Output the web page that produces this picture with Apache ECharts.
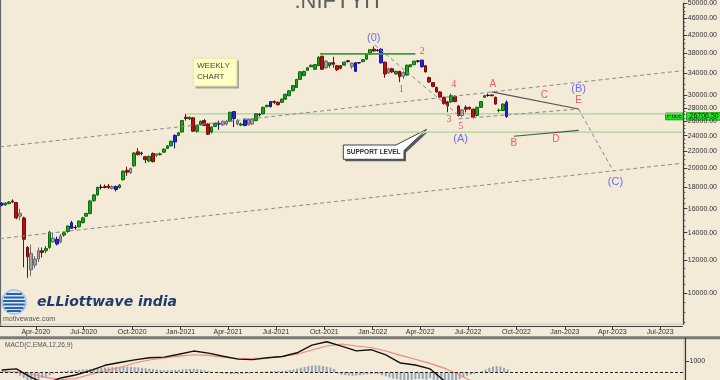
<!DOCTYPE html>
<html><head><meta charset="utf-8">
<script src="https://cdn.jsdelivr.net/npm/echarts@6/dist/echarts.min.js"></script>
<style>html,body{margin:0;padding:0;background:#f3ead8}#c{width:720px;height:380px}</style>
</head><body><div id="c"></div>
<script>
// ---------------- data ----------------
const weekStart = '2020-01-27';
const opens  = [16500,16350,16450,16700,16550,15350,15200,12900,11400,11700,12100,12670,12670,12900,13300,13500,13300,13820,14100,14350,14400,14470,14800,15350,15580,16720,17270,18000,18100,18150,17900,18100,18000,18800,19800,19530,20300,21940,21750,21350,20850,21750,21500,21600,21900,22360,22680,23180,24040,24490,26590,26330,26500,24600,25500,26100,25600,24490,25250,25600,25500,25600,26000,27430,25600,25450,26300,25500,25600,26100,26950,27100,28200,28200,29000,28900,28880,29400,29960,30800,31360,32800,33500,34500,35200,34700,35400,37300,35000,35400,36000,35400,35400,35500,36400,35200,35970,35950,36200,36700,37700,38800,38600,38800,36100,34000,34800,33800,34300,33400,33600,35200,35600,36300,36500,35400,33130,32230,31360,30600,29700,28950,28950,29850,28300,26850,28090,28100,27800,26850,28090,29700,30050,30100,29700,27600,27600,28880];
const closes = [16300,16500,16600,16600,15200,15600,13500,12250,12480,12100,12670,12550,12830,14050,13580,13150,13750,14000,14530,14800,14420,14930,15200,15580,16700,17270,18000,18020,18000,18000,18100,17800,18250,19700,19600,20000,21800,21600,21780,21000,21400,20770,21700,21700,22270,22680,23270,24040,24400,26100,26400,26590,24600,25400,26000,25400,24200,25170,25700,25650,26000,26000,27330,26400,26100,25600,25400,26300,26300,27100,27000,28090,28400,29000,28880,28500,29400,30200,30800,31700,32800,34220,34300,35000,35500,35600,37100,34700,36300,35970,35700,34600,34900,36100,36200,35900,34300,36000,36600,37700,38700,38400,38500,35970,33800,34800,34200,34300,33300,34100,35500,35600,36300,36350,35200,34200,32340,31550,30600,29700,28700,28300,29960,29000,26850,27700,27800,27850,26590,28090,29000,29960,30000,29950,28600,27650,28600,26706.5];
const lows   = [16200,16250,16400,16500,15100,15000,11550,10900,11000,11500,11900,12200,12500,12800,13250,13050,13200,13700,14000,14300,14250,14400,14750,15300,15500,16650,17200,17800,17900,17850,17800,17600,17900,18700,19200,19400,20200,21500,21500,20600,20700,20700,21300,21500,21800,22300,22600,22350,23950,24400,26100,26200,24500,24400,25400,25300,24100,24300,25200,24800,25300,25400,25900,25170,25400,25300,25300,25400,25500,26000,26700,27000,28100,28100,28600,28400,28800,29300,29900,30700,31300,32700,33400,34400,35100,34600,35300,34600,34800,35000,35000,34400,34700,35400,36000,34800,34200,35800,36100,36600,37600,38300,38300,35800,33100,33800,34000,33700,32300,32900,33500,35100,35500,36000,35000,34100,32200,31400,30500,29600,28500,27330,28800,28900,26700,26600,27300,27700,26400,26700,28000,29600,29800,29900,28500,27300,27500,26500];
const highs  = [16600,16600,16700,16850,16600,16000,15300,13000,13100,12300,12900,12900,13000,14150,14000,13700,13900,14100,14600,14950,14600,15000,15300,15650,16800,17350,18100,18300,18300,18350,18200,18200,18350,19800,20200,20100,21900,22400,21950,21450,21500,21850,21800,21850,22350,22750,23350,24150,24500,26200,27100,26700,26600,25500,26100,26300,25700,25300,25800,26100,26100,26200,27400,27500,26300,25800,26400,26400,26400,27200,27200,28200,28500,29100,29200,29000,29500,30300,30900,31800,32900,34300,34400,35100,35600,35700,37300,37400,36500,36100,37200,35500,35500,36200,36500,36000,36100,36100,36700,37800,38800,39400,38800,39000,36200,35000,35000,34400,34400,34300,35600,35700,36400,36500,36600,35500,33300,32300,31500,30700,29800,29100,30300,30000,28400,27800,28400,28200,27900,28200,29100,30100,30300,30200,29800,27900,28700,29200];
const blueBars  = [0,15,19,31,47,59,63,66,73,96,103,114,137];
const grayBars  = [5,8,9,10,14,16,30,35,42,60,61,64,67,68,88,95,105,109,125];
const blackBars = [20,27,38,70,97,102,113,132];

const macdHist = [80,100,60,20,-100,-300,-500,-700,-800,-700,-600,-500,-400,
  -250,-150,0,60,100,140,180,200,220,240,260,300,330,360,400,420,440,450,470,480,500,500,480,460,440,400,360,320,280,240,200,180,170,180,200,220,250,280,300,300,280,240,180,120,60,0,
  -60,-100,-130,-150,-160,-150,-130,-110,-90,-60,-30,0,
  40,80,100,110,120,130,150,200,260,320,400,480,550,600,620,600,560,500,420,300,
  -100,-200,-250,-280,-300,-280,-250,-200,-180,-150,-150,-160,
  -250,-350,-450,-550,-600,-650,-700,-700,-650,-600,-580,-600,-650,-500,-650,-800,-950,-1150,-1000,-850,-700,-600,-450,-300,-200,-150,-30,
  100,250,400,520,560,520,400,250];
const macdWeeks  = [0,4,8,12,16,20,24,28,32,36,40,44,48,52,56,60,64,68,72,76,80,84,88,92,96,100,104,108,112,116,120,124,128,132,136,137];
const macdLine   = [200,300,-450,-1000,-500,-240,150,620,870,1100,1290,1340,1600,1880,1700,1420,1170,1120,1290,1400,1730,2400,2700,2320,1900,2000,1550,820,650,300,-800,-850,-1050,-800,-850,-1000];
const signalLine = [50,30,-150,-450,-650,-550,-200,130,430,820,1090,1260,1430,1560,1500,1330,1220,1240,1270,1400,1600,1980,2330,2500,2330,2200,1880,1500,1150,790,350,-250,-900,-1300,-1250,-1220];

const quarterTicks = ['2020-04-01','2020-07-01','2020-10-01','2021-01-01','2021-04-01','2021-07-01','2021-10-01','2022-01-01','2022-04-01','2022-07-01','2022-10-01','2023-01-01','2023-04-01','2023-07-01'];
const priceTicks = [10000,12000,14000,16000,18000,20000,22000,24000,26000,28000,30000,34000,38000,42000,46000,50000];
const macdTicks = [1000];

const channelTop    = [['2020-01-24',22550],['2023-08-12',34430]];
const channelBottom = [['2020-01-24',13550],['2023-08-12',20600]];
const declineLine   = [['2022-01-05',39710],['2022-06-13',26890]];
const triangleLow   = [['2022-06-13',26340],['2023-01-27',27830]];
const projection    = [['2023-01-27',27830],['2023-04-03',19710]];
const lineAE        = [['2022-08-15',30620],['2023-01-27',27830]];
const lineBD        = [['2022-09-26',23920],['2023-01-27',24720]];
const resistance    = [['2021-09-23',37800],['2022-03-23',37800]];
const zoneTop       = [['2021-01-14',27080],['2023-08-12',27080]];
const zoneBottom    = [['2021-02-02',24490],['2023-08-12',24490]];

const waveLabels = [
  ['(0)','2022-01-03',41270],['1','2022-02-24',31070],['2','2022-04-05',38430],
  ['3','2022-05-26',26260],['4','2022-06-04',31930],['5','2022-06-17',25270],
  ['(A)','2022-06-17',23600],['A','2022-08-17',31930],['B','2022-09-26',22960],
  ['C','2022-11-23',29960],['D','2022-12-15',23470],['E','2023-01-27',29240],
  ['(B)','2023-01-27',31070],['(C)','2023-04-07',18530]
];

// ---------------- build ----------------
const DAY = 86400000;
function toTime(s){ const p = s.split('-').map(Number); return new Date(p[0], p[1]-1, p[2]).getTime(); }
const MONTHS = ['Jan','Feb','Mar','Apr','May','Jun','Jul','Aug','Sep','Oct','Nov','Dec'];
const xMin = toTime('2020-01-24'), xMax = toTime('2023-08-12');
const yMin = 8420, yMax = 50020;
const t0 = toTime(weekStart);
const weekDates = opens.map((_, i) => t0 + i * 7 * DAY);

const STY = {
  blue:  {color:'#2424d8', color0:'#2424d8', borderColor:'#12129a', borderColor0:'#12129a'},
  gray:  {color:'#a3a3a3', color0:'#a3a3a3', borderColor:'#6a6a6a', borderColor0:'#6a6a6a'},
  black: {color:'#222', color0:'#222', borderColor:'#111', borderColor0:'#111'}
};
const candleData = weekDates.map((d, i) => {
  const item = {value: [d, opens[i], closes[i], lows[i], highs[i]]};
  if (blueBars.includes(i)) item.itemStyle = STY.blue;
  else if (grayBars.includes(i)) item.itemStyle = STY.gray;
  else if (blackBars.includes(i)) item.itemStyle = STY.black;
  return item;
});

const L10 = v => Math.log10(v);
const minorTicks = [];
for (let v = 8500; v <= 30000; v += 500) if (!priceTicks.includes(v)) minorTicks.push(L10(v));
for (let v = 31000; v <= 50000; v += 1000) if (!priceTicks.includes(v)) minorTicks.push(L10(v));

function lineSeries(data, color, width, dash, z) {
  return {type:'line', xAxisIndex:0, yAxisIndex:0, data: data.map(p => [toTime(p[0]), p[1]]),
    symbol:'none', silent:true, z: z || 4,
    lineStyle:{color, width, type: dash ? [4,3] : 'solid'}};
}
const DASH = '#8a8a8a';

const labelData = waveLabels.map(w => {
  const t = w[0];
  let lab;
  if (t[0] === '(') lab = {color:'#4e4ef2', fontSize:11, fontFamily:'Liberation Sans'};
  else if (/\d/.test(t[0])) lab = {color:'#ee2a2a', fontSize:10, fontFamily:'Liberation Serif'};
  else lab = {color:'#f03a3a', fontSize:10, fontFamily:'Liberation Sans'};
  return {value:[toTime(w[1]), w[2]], name:t, label: Object.assign({show:true, position:'inside', formatter:t}, lab)};
});

const chart = echarts.init(document.getElementById('c'), null, {renderer:'canvas'});
const option = {
  animation:false,
  backgroundColor:'#f3ead8',
  grid:[
    {left:0, right:36, top:0, height:324.3},
    {left:0, right:36, top:338.4, bottom:0}
  ],
  xAxis:[
    {type:'value', gridIndex:0, min:xMin, max:xMax, offset:2.4,
     axisLine:{show:true, lineStyle:{color:'#3a3a3a', width:1.2}},
     axisTick:{show:true, length:3, lineStyle:{color:'#3a3a3a'}, customValues: quarterTicks.map(toTime)},
     axisLabel:{show:true, margin:2, fontSize:7, fontFamily:'Liberation Sans', color:'#333',
       customValues: quarterTicks.map(toTime),
       formatter: v => { const d = new Date(v); return MONTHS[d.getMonth()] + '-' + d.getFullYear(); }},
     splitLine:{show:false}},
    {type:'value', gridIndex:1, min:xMin, max:xMax, show:false}
  ],
  yAxis:[
    {type:'log', gridIndex:0, min:yMin, max:yMax, position:'right', offset:1,
     axisLine:{show:true, lineStyle:{color:'#3a3a3a', width:1.2}},
     axisTick:{show:false}, axisLabel:{show:false}, splitLine:{show:false}},
    {type:'value', gridIndex:0, min:L10(yMin), max:L10(yMax), position:'right', offset:1,
     axisLine:{show:false},
     axisTick:{show:true, length:4, lineStyle:{color:'#3a3a3a'}, customValues: priceTicks.map(L10)},
     axisLabel:{show:true, margin:4.5, fontSize:7, fontFamily:'Liberation Sans', color:'#333',
       customValues: priceTicks.map(L10), formatter: v => Math.round(Math.pow(10, v)).toFixed(2)},
     splitLine:{show:false}},
    {type:'value', gridIndex:0, min:L10(yMin), max:L10(yMax), position:'right', offset:1,
     axisLine:{show:false},
     axisTick:{show:true, length:2, lineStyle:{color:'#555'}, customValues: minorTicks},
     axisLabel:{show:false}, splitLine:{show:false}},
    {type:'value', gridIndex:1, min:-680, max:3000, position:'right', offset:1,
     axisLine:{show:true, lineStyle:{color:'#3a3a3a', width:1.2}},
     axisTick:{show:true, length:4, lineStyle:{color:'#3a3a3a'}, customValues: macdTicks},
     axisLabel:{show:true, margin:4.5, fontSize:7, fontFamily:'Liberation Sans', color:'#333',
       customValues: macdTicks, formatter: v => String(Math.round(v))},
     splitLine:{show:false}}
  ],
  series:[
    lineSeries(zoneTop, '#a8d29a', 1.2, false, 1),
    lineSeries(zoneBottom, '#a8d29a', 1.2, false, 1),
    {type:'candlestick', xAxisIndex:0, yAxisIndex:0, data:candleData, barWidth:3.2, z:2,
     itemStyle:{color:'#1fa01f', color0:'#b01212', borderColor:'#0c680c', borderColor0:'#780a0a', borderWidth:1}},
    lineSeries(channelTop, DASH, 1, true),
    lineSeries(channelBottom, DASH, 1, true),
    lineSeries(declineLine, DASH, 1, true),
    lineSeries(triangleLow, DASH, 1, true),
    lineSeries(projection, DASH, 1, true),
    lineSeries(lineAE, '#555', 1.2, false),
    lineSeries(lineBD, '#555', 1.2, false),
    lineSeries(resistance, '#3f9b3f', 1.6, false),
    {type:'scatter', xAxisIndex:0, yAxisIndex:0, data:labelData, symbolSize:1, z:6, silent:true,
     itemStyle:{color:'rgba(0,0,0,0)'}},
    {type:'bar', xAxisIndex:1, yAxisIndex:3, data: weekDates.map((d,i)=>[d, macdHist[i]]), barWidth:2,
     itemStyle:{color:'#93a5b8'}, silent:true,
     markLine:{silent:true, symbol:'none', label:{show:false}, lineStyle:{color:'#222', width:1, type:[3,2]}, data:[{yAxis:0}]}},
    {type:'line', xAxisIndex:1, yAxisIndex:3, data: macdWeeks.map((w,i)=>[weekDates[w], signalLine[i]]),
     symbol:'none', silent:true, lineStyle:{color:'#f3857d', width:1.1}},
    {type:'line', xAxisIndex:1, yAxisIndex:3, data: macdWeeks.map((w,i)=>[weekDates[w], macdLine[i]]),
     symbol:'none', silent:true, lineStyle:{color:'#111', width:1.4}}
  ]
};
chart.setOption(option);

// ---------------- decorations ----------------
const last = closes[closes.length - 1];
const py = chart.convertToPixel({yAxisIndex:0}, last);
const globe = [];
const gx = 14, gy = 302, gr = 12;
globe.push({type:'circle', shape:{cx:gx, cy:gy, r:gr}, style:{fill:'#d8e8f8', stroke:'#9cc3ea', lineWidth:1.5}});
[-8,-4.5,-1,2.5,6,9].forEach(dy => {
  const hw = Math.sqrt(Math.max(0, gr*gr - dy*dy)) - 1;
  globe.push({type:'line', shape:{x1:gx-hw, y1:gy+dy, x2:gx+hw, y2:gy+dy}, style:{stroke:'#2a62a8', lineWidth:2}});
});
const calloutPts = [[343.3,145],[396,145],[426.7,129.3],[404,150.5],[404,159.3],[343.3,159.3]];
const graphics = [
  {type:'line', shape:{x1:0.5, y1:0, x2:0.5, y2:327}, style:{stroke:'#666', lineWidth:1.2}},
  {type:'line', shape:{x1:0, y1:324.3, x2:684, y2:324.3}, style:{stroke:'#cfc6b4', lineWidth:1}},
  {type:'line', shape:{x1:684, y1:0, x2:684, y2:324.3}, style:{stroke:'#cfc6b4', lineWidth:1}},
  {type:'line', shape:{x1:684, y1:340, x2:684, y2:380}, style:{stroke:'#cfc6b4', lineWidth:1}},
  {type:'rect', shape:{x:0, y:336.3, width:720, height:3}, style:{fill:'#7b7b7b'}},
  {type:'text', x:339, y:2, style:{text:'.NIFTYIT', fontSize:22, fontFamily:'Liberation Sans', fill:'#5e5e5e', align:'center', verticalAlign:'middle'}},
  {type:'rect', shape:{x:195.5, y:60.5, width:43.5, height:28}, style:{fill:'#a8a49a'}},
  {type:'rect', shape:{x:193.3, y:58.3, width:43.5, height:27.7}, style:{fill:'#ffffc4', stroke:'#ece6a8', lineWidth:1}},
  {type:'text', x:197, y:66, style:{text:'WEEKLY', fontSize:8, fontFamily:'Liberation Sans', fill:'#444', align:'left', verticalAlign:'middle'}},
  {type:'text', x:197, y:77, style:{text:'CHART', fontSize:8, fontFamily:'Liberation Sans', fill:'#444', align:'left', verticalAlign:'middle'}},
  {type:'polygon', x:2, y:2, shape:{points:calloutPts}, style:{fill:'#5a5a5a'}},
  {type:'polygon', shape:{points:calloutPts}, style:{fill:'#ffffff', stroke:'#444', lineWidth:1}},
  {type:'text', x:373.5, y:152.3, style:{text:'SUPPORT LEVEL', fontSize:6.5, fontWeight:'bold', fontFamily:'Liberation Sans', fill:'#333', align:'center', verticalAlign:'middle'}},
  ...globe,
  {type:'text', x:37, y:302.5, style:{text:'eLLiottwave india', fontSize:14, fontStyle:'italic', fontWeight:'bold', fontFamily:'DejaVu Sans', fill:'#1f3c6e', align:'left', verticalAlign:'middle'}},
  {type:'text', x:3, y:319, style:{text:'motivewave.com', fontSize:7, fontFamily:'Liberation Sans', fill:'#555', align:'left', verticalAlign:'middle'}},
  {type:'text', x:5, y:345.6, style:{text:'MACD(C,EMA,12,26,9)', fontSize:6.5, fontFamily:'Liberation Sans', fill:'#555', align:'left', verticalAlign:'middle'}},
  {type:'rect', shape:{x:665.5, y:py-3.4, width:18, height:6.8}, style:{fill:'#14e614', stroke:'#0b8a0b', lineWidth:0.8}},
  {type:'text', x:674.5, y:py, style:{text:'Price', fontSize:6.5, fontFamily:'Liberation Sans', fill:'#0b2a0b', align:'center', verticalAlign:'middle'}},
  {type:'rect', shape:{x:686.5, y:py-3.8, width:34, height:7.6}, style:{fill:'#1ef01e', stroke:'#0b8a0b', lineWidth:0.8}},
  {type:'text', x:689.5, y:py, style:{text:last.toFixed(2), fontSize:7, fontFamily:'Liberation Sans', fill:'#111', align:'left', verticalAlign:'middle'}}
];
chart.setOption({graphic:{elements:graphics}});
</script>
</body></html>
